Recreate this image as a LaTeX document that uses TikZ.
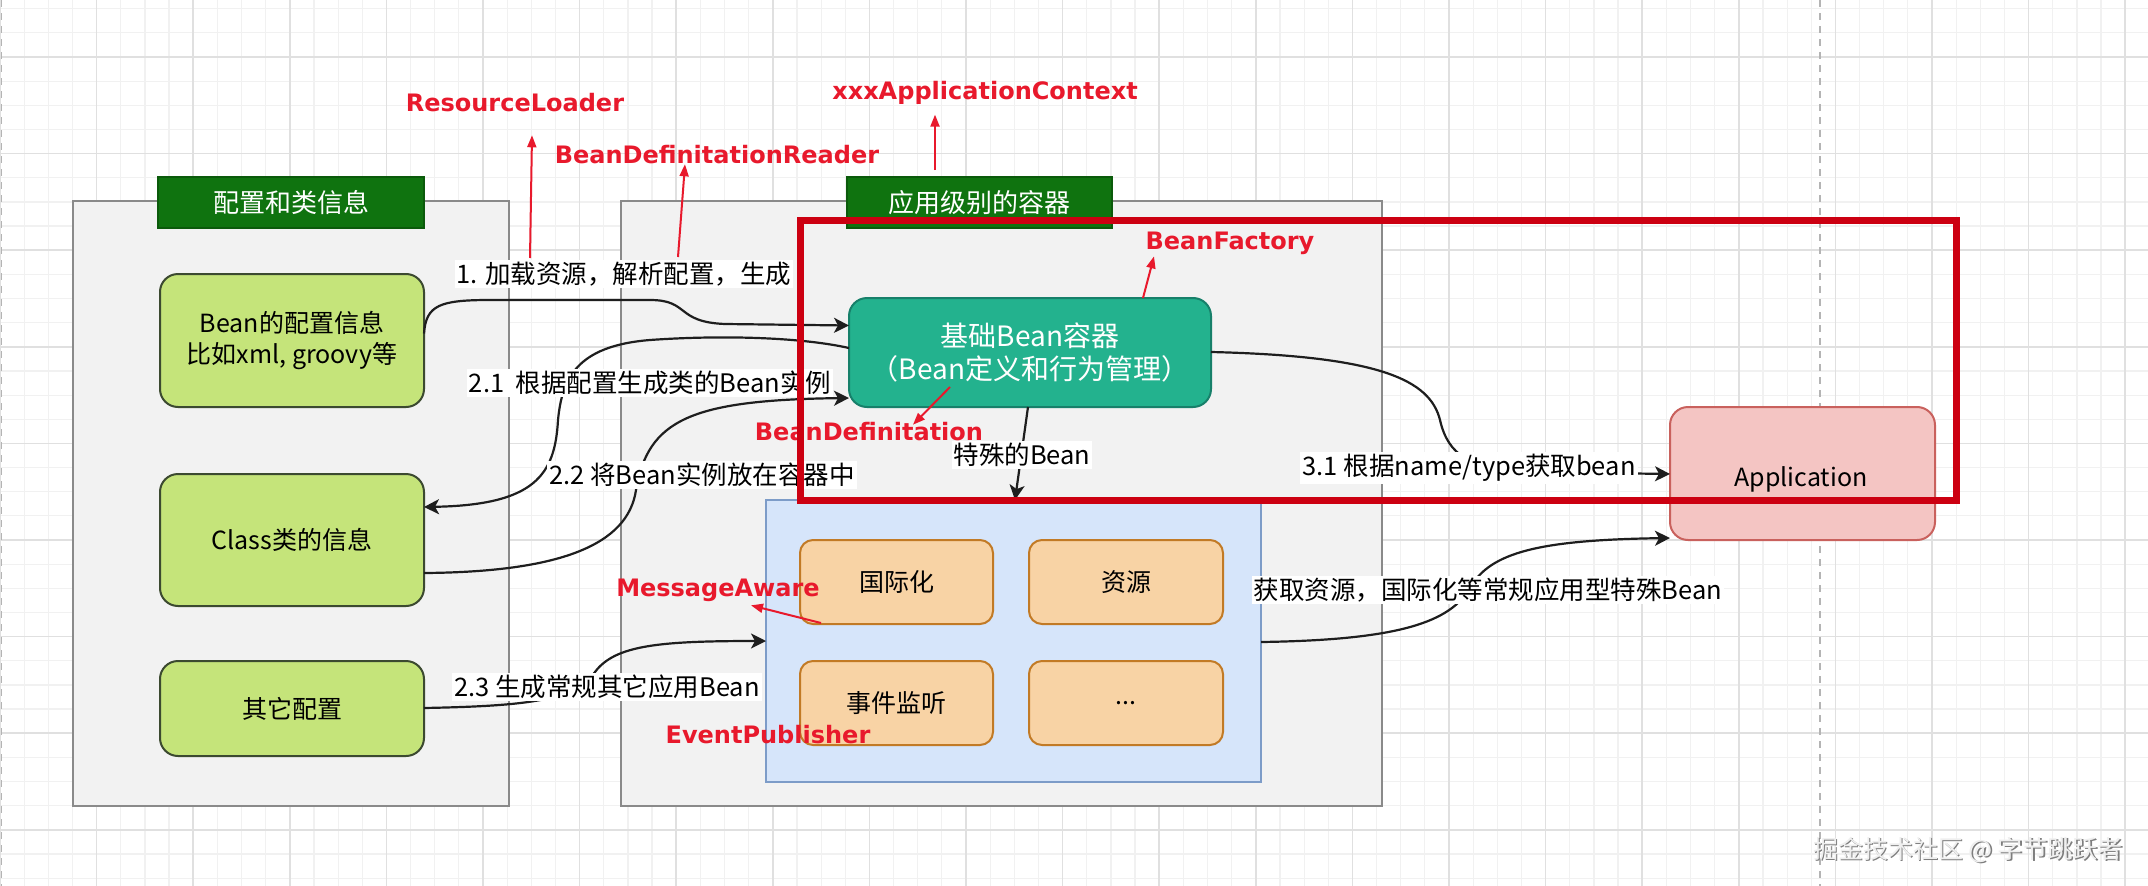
\documentclass[tikz,border=0pt]{standalone}
\usepackage{fontspec}
\setmainfont{Noto Sans CJK SC}
\newfontfamily\rfont{DejaVu Sans}
\usetikzlibrary{arrows.meta}
\newcommand{\fsz}[2]{\fontsize{#1}{#2}\selectfont}
\definecolor{gminorc}{HTML}{F1F1F1}
\definecolor{gmajorc}{HTML}{E0E0E0}
\definecolor{dashc}{HTML}{B4B4B4}
\definecolor{contfill}{HTML}{F2F2F2}
\definecolor{contline}{HTML}{8A8A8A}
\definecolor{headfill}{HTML}{0F730F}
\definecolor{headline}{HTML}{0B5A0B}
\definecolor{gfill}{HTML}{C5E47A}
\definecolor{gline}{HTML}{3C4A30}
\definecolor{tealfill}{HTML}{23B28E}
\definecolor{tealline}{HTML}{17806A}
\definecolor{bluefill}{HTML}{D6E5FA}
\definecolor{blueline}{HTML}{7D9CC8}
\definecolor{orfill}{HTML}{F8D3A5}
\definecolor{orline}{HTML}{C27A25}
\definecolor{appfill}{HTML}{F4C5C3}
\definecolor{appline}{HTML}{C9615D}
\definecolor{redline}{HTML}{CC0011}
\definecolor{redlbl}{HTML}{E8192C}
\definecolor{edgec}{HTML}{1E1E1E}
\definecolor{wmshadow}{HTML}{7E7E7E}
\definecolor{wmtext}{HTML}{EFEFEF}
\begin{document}
\begin{tikzpicture}[x=1pt,y=-1pt,
  every node/.style={inner sep=0pt,outer sep=0pt},
  gminor/.style={draw=gminorc,line width=1.2pt},
  gmajor/.style={draw=gmajorc,line width=1.5pt},
  guide/.style={draw=dashc,line width=1.5pt,dash pattern=on 7pt off 6pt},
  cont/.style={draw=contline,fill=contfill,line width=2.5pt},
  head/.style={draw=headline,fill=headfill,line width=1.5pt,text=white,font=\fsz{26}{30}},
  gbox/.style={draw=gline,fill=gfill,line width=2pt,rounded corners=18pt,font=\fsz{25}{31},align=center},
  tbox/.style={draw=tealline,fill=tealfill,line width=2pt,rounded corners=18pt,text=white,font=\fsz{28}{33},align=center},
  bbox/.style={draw=blueline,fill=bluefill,line width=2pt},
  obox/.style={draw=orline,fill=orfill,line width=2pt,rounded corners=13pt,font=\fsz{25}{30}},
  abox/.style={draw=appline,fill=appfill,line width=2pt,rounded corners=18pt},
  lbl/.style={fill=white,inner sep=2pt,font=\fsz{25.5}{30}},
  rlbl/.style={text=redlbl,font=\rfont\bfseries\fsz{24}{28}},
  conn/.style={draw=edgec,line width=2.2pt,-{Stealth[length=15pt,width=15pt,inset=4pt]}},
  rarr/.style={draw=redlbl,line width=2pt,-{Triangle[length=12pt,width=9pt]}},
  focusbox/.style={draw=redline,line width=7pt}
]
\useasboundingbox (0,0) rectangle (2148,886);
\fill[white] (0,0) rectangle (2148,886);
% grid
\foreach \i in {0,...,89} {\draw[gminor] ({\i*24.15},0) -- ({\i*24.15},886);}
\foreach \j in {-2,...,34} {\draw[gminor] (0,{57+\j*24.15}) -- (2148,{57+\j*24.15});}
\foreach \i in {0,...,22} {\draw[gmajor] ({\i*96.6},0) -- ({\i*96.6},886);}
\foreach \j in {0,...,8} {\draw[gmajor] (0,{57+\j*96.6}) -- (2148,{57+\j*96.6});}
\draw[guide] (1820,0) -- (1820,886);
\draw[guide] (1.5,0) -- (1.5,886);

% containers
\node[cont,minimum width=436pt,minimum height=605pt] (leftc) at (291,503.5) {};
\node[cont,minimum width=761pt,minimum height=605pt] (midc) at (1001.5,503.5) {};
\node[head,minimum width=266pt,minimum height=51pt] (lhead) at (291,202.5) {配置和类信息};
\node[head,minimum width=265pt,minimum height=51pt] (mhead) at (979.5,202.5) {应用级别的容器};

% boxes
\node[gbox,minimum width=264pt,minimum height=133pt] (cfg) at (292,340.5) {Bean的配置信息\\比如xml, groovy等};
\node[gbox,minimum width=264pt,minimum height=132pt] (cls) at (292,540) {Class类的信息};
\node[gbox,minimum width=264pt,minimum height=95pt] (oth) at (292,708.5) {其它配置};
\node[tbox,minimum width=362pt,minimum height=109pt] (core) at (1030,352.5) {基础Bean容器\\（Bean定义和行为管理）};
\node[bbox,minimum width=495pt,minimum height=282pt] (spec) at (1013.5,641) {};
\node[obox,minimum width=193pt,minimum height=84pt] (o1) at (896.5,582) {国际化};
\node[obox,minimum width=194pt,minimum height=84pt] (o2) at (1126,582) {资源};
\node[obox,minimum width=193pt,minimum height=84pt] (o3) at (896.5,703) {事件监听};
\node[obox,minimum width=194pt,minimum height=84pt] (o4) at (1126,703) {...};
\node[abox,minimum width=265pt,minimum height=133pt] (app) at (1802.5,473.5) {};
\node[font=\fsz{25}{30}] (apptxt) at (1801,479) {Application};

% connectors
\draw[conn] ([shift={(0,-7)}]cfg.east) .. controls (426,305) and (440,300) .. (490,300)
  -- (650,300) .. controls (690,300) and (675,322) .. (725,324) -- ([shift={(0,-27)}]core.west);
\draw[conn] ([shift={(0,-4.5)}]core.west) .. controls (800,337) and (720,335) .. (650,340)
  .. controls (575,346) and (562,380) .. (558,420)
  .. controls (555,475) and (535,505) .. ([shift={(0,-33)}]cls.east);
\draw[conn] ([shift={(0,33)}]cls.east) .. controls (560,572) and (628,545) .. (636,490)
  .. controls (648,420) and (690,400) .. ([shift={(0,45.5)}]core.west);
\draw[conn] ([shift={(0,-0.5)}]oth.east) .. controls (530,706) and (575,700) .. (595,672)
  .. controls (615,645) and (660,641) .. (spec.west);
\draw[conn] ([shift={(-2,0)}]core.south) -- ([shift={(1.5,0)}]spec.north);
\draw[conn] ([shift={(0,-0.5)}]core.east) .. controls (1380,356) and (1430,380) .. (1440,420)
  .. controls (1448,455) and (1470,470) .. (1530,472) -- ([shift={(0,0.5)}]app.west);
\draw[conn] ([shift={(0,1)}]spec.east) .. controls (1400,640) and (1450,622) .. (1470,588)
  .. controls (1490,552) and (1540,540) .. ([shift={(0,64.5)}]app.west);

% connector labels
\node[lbl] (l1) at (624,274) {1. 加载资源，解析配置，生成};
\node[lbl] (l21) at (650,383) {2.1~~根据配置生成类的Bean实例};
\node[lbl] (l22) at (702,475) {2.2 将Bean实例放在容器中};
\node[lbl] (l23) at (607,687) {2.3 生成常规其它应用Bean};
\node[lbl] (lsp) at (1022,455) {特殊的Bean};
\node[lbl] (l31) at (1469,468) {3.1 根据name/type获取bean};
\node[lbl] (lget) at (1488,590) {获取资源，国际化等常规应用型特殊Bean};

% red annotations
\node[rlbl] (rl) at (515,103) {ResourceLoader};
\node[rlbl] (bdr) at (717,155) {BeanDefinitationReader};
\node[rlbl] (xac) at (985,93) {xxxApplicationContext};
\node[rlbl] (bf) at (1230,243) {BeanFactory};
\node[rlbl] (bd) at (869,432) {BeanDefinitation};
\node[rlbl] (ma) at (718,590) {MessageAware};
\node[rlbl] (ep) at (768,735) {EventPublisher};
\coordinate (rlA) at (530,258);
\coordinate (bdrA) at (678,257);
\coordinate (xacA) at (935,170);
\coordinate (bdA) at (950,387);
\coordinate (maA) at (821,623);
\draw[rarr] (rlA) -- ([shift={(17,23)}]rl.south);
\draw[rarr] (bdrA) -- ([shift={(-32,0)}]bdr.south);
\draw[rarr] (xacA) -- ([shift={(-50,10)}]xac.south);
\draw[rarr] ([shift={(113,0)}]core.north) -- ([shift={(-76,2)}]bf.south);
\draw[rarr] (bdA) -- ([shift={(44,2)}]bd.north);
\draw[rarr] (maA) -- ([shift={(33,4)}]ma.south);

% focus frame
\node[focusbox,minimum width=1156pt,minimum height=280pt] (focus) at (1378,360) {};

% watermark
\node[text=wmshadow,font=\fsz{25}{30}] (wms) at (1969.5,851.5) {掘金技术社区 @ 字节跳跃者};
\node[text=wmtext,font=\fsz{25}{30}] (wm) at (1968,850) {掘金技术社区 @ 字节跳跃者};
\end{tikzpicture}
\end{document}
